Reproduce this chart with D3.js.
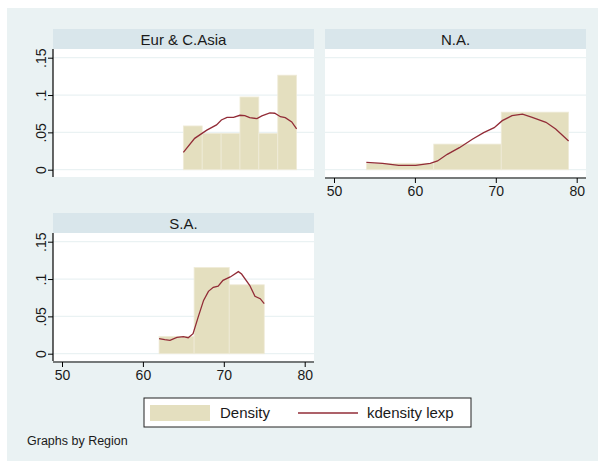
<!DOCTYPE html>
<html>
<head>
<meta charset="utf-8">
<script src="https://cdn.jsdelivr.net/npm/d3@7/dist/d3.min.js"></script>
<style>
  body { margin: 0; background: #fff; }
  text { font-family: "Liberation Sans", Arial, sans-serif; fill: #1a1a1a; }
</style>
</head>
<body>
<div id="chart"></div>
<script>
// ticks
var xTicks = [50, 60, 70, 80];
var yTicks = [0, 0.05, 0.1, 0.15];
var yTickLabels = ['0', '.05', '.1', '.15'];

// regions (panel titles)
var regions = ['Eur & C.Asia', 'N.A.', 'S.A.'];

// histogram bin edges and densities
var eurEdges = [65, 67.33, 69.67, 72, 74.33, 76.67, 79];
var eurDensity = [0.0586, 0.0487, 0.0487, 0.0974, 0.0487, 0.1266];
var naEdges = [54, 62.33, 70.67, 79];
var naDensity = [0.0086, 0.0343, 0.0771];
var saEdges = [62, 66.33, 70.67, 75];
var saDensity = [0.0231, 0.1154, 0.0923];

// kernel density curves
var eurKdX = [65.0, 66.4, 67.9, 69.1, 69.7, 70.4, 71.2, 72.0, 72.6, 73.2, 74.1, 74.7, 75.7, 76.3, 77.0, 77.6, 78.4, 79.0];
var eurKdY = [0.0233, 0.042, 0.053, 0.060, 0.0666, 0.070, 0.070, 0.0729, 0.0724, 0.0697, 0.0684, 0.072, 0.076, 0.0756, 0.071, 0.0697, 0.064, 0.0546];
var naKdX = [54.0, 56.0, 58.0, 60.1, 61.9, 62.8, 64.0, 65.5, 67.1, 68.5, 69.8, 70.8, 72.0, 73.3, 74.5, 76.2, 77.4, 79.0];
var naKdY = [0.0099, 0.0086, 0.0059, 0.0059, 0.0086, 0.0117, 0.0206, 0.0295, 0.0408, 0.0496, 0.0563, 0.0657, 0.0724, 0.0743, 0.0702, 0.0635, 0.0546, 0.0385];
var saKdX = [62.0, 62.7, 63.35, 64.2, 65.0, 65.6, 66.2, 66.85, 67.5, 68.1, 68.7, 69.3, 69.9, 70.8, 71.8, 72.2, 73.2, 73.85, 74.5, 75.0];
var saKdY = [0.0201, 0.0188, 0.0178, 0.0218, 0.0228, 0.0214, 0.0268, 0.0496, 0.0714, 0.0835, 0.0889, 0.0906, 0.0983, 0.1028, 0.1099, 0.1067, 0.0916, 0.0768, 0.0737, 0.067];

var legendLabels = ['Density', 'kdensity lexp'];
var note = 'Graphs by Region';

var W = 599, H = 462;
var panelW = 261, stripH = 20, plotH = 128;
var barColor = '#e4dfbf', lineColor = '#922c37', bgColor = '#eaf2f3', stripColor = '#d9e6eb';

var svg = d3.select('#chart').append('svg')
    .attr('width', W)
    .attr('height', H);

svg.append('rect')
    .attr('x', 7).attr('y', 8)
    .attr('width', 591).attr('height', 453)
    .attr('fill', bgColor);

var xScale = d3.scaleLinear().domain([50, 80]).range([9, 251.7]);
var yScale = d3.scaleLinear().domain([0, 0.15]).range([140.7, 28.7]);

function zip(xs, ys) {
    return xs.map(function (d, i) { return [d, ys[i]]; });
}

var panels = [
    { title: regions[0], x: 53, y: 29, edges: eurEdges, dens: eurDensity, kd: zip(eurKdX, eurKdY), yAxis: true, xAxis: false },
    { title: regions[1], x: 325, y: 29, edges: naEdges, dens: naDensity, kd: zip(naKdX, naKdY), yAxis: false, xAxis: true },
    { title: regions[2], x: 53, y: 213, edges: saEdges, dens: saDensity, kd: zip(saKdX, saKdY), yAxis: true, xAxis: true }
];

var line = d3.line()
    .x(function (d) { return xScale(d[0]); })
    .y(function (d) { return yScale(d[1]); });

panels.forEach(function (p) {
    var g = svg.append('g').attr('transform', 'translate(' + p.x + ',' + p.y + ')');

    // title strip
    g.append('rect')
        .attr('width', panelW).attr('height', stripH)
        .attr('fill', stripColor);
    g.append('text')
        .attr('x', panelW / 2).attr('y', 15.5)
        .attr('text-anchor', 'middle')
        .style('font-size', '15px')
        .text(p.title);

    // plot region
    g.append('rect')
        .attr('y', stripH)
        .attr('width', panelW).attr('height', plotH)
        .attr('fill', '#fff');

    g.selectAll('.grid')
        .data(yTicks)
        .enter().append('line')
        .attr('x1', 0).attr('x2', panelW)
        .attr('y1', function (d) { return yScale(d); })
        .attr('y2', function (d) { return yScale(d); })
        .attr('stroke', bgColor)
        .attr('stroke-width', 1.2);

    // bars
    g.selectAll('.bar')
        .data(p.dens)
        .enter().append('rect')
        .attr('x', function (d, i) { return xScale(p.edges[i]); })
        .attr('y', function (d) { return yScale(d); })
        .attr('width', function (d, i) { return xScale(p.edges[i + 1]) - xScale(p.edges[i]); })
        .attr('height', function (d) { return yScale(0) - yScale(d); })
        .attr('fill', barColor)
        .attr('stroke', '#efebd8')
        .attr('stroke-width', 0.8);

    // density line
    g.append('path')
        .attr('d', line(p.kd))
        .attr('fill', 'none')
        .attr('stroke', lineColor)
        .attr('stroke-width', 1.3);

    if (p.yAxis) {
        var yAx = g.append('g').call(d3.axisLeft(yScale).tickValues(yTicks).tickSize(5)
            .tickFormat(function (d, i) { return yTickLabels[i]; }));
        yAx.select('.domain').remove();
        yAx.selectAll('text')
            .attr('x', 0).attr('dy', 0)
            .attr('text-anchor', 'middle')
            .attr('transform', 'translate(-7.5,0) rotate(-90)')
            .style('font-size', '14px')
            .style('font-family', '"Liberation Sans", Arial, sans-serif')
            .attr('fill', '#1a1a1a');
        g.append('line')
            .attr('x1', 0).attr('x2', 0)
            .attr('y1', stripH).attr('y2', stripH + plotH)
            .attr('stroke', '#000').attr('stroke-width', 1.2);
    }

    if (p.xAxis) {
        var ax = g.append('g')
            .attr('transform', 'translate(0,' + (stripH + plotH + 1) + ')')
            .call(d3.axisBottom(xScale).tickValues(xTicks).tickSize(5).tickPadding(3));
        ax.select('.domain').remove();
        ax.selectAll('text')
            .style('font-size', '14px')
            .style('font-family', '"Liberation Sans", Arial, sans-serif')
            .attr('fill', '#1a1a1a');
        g.append('line')
            .attr('x1', 0).attr('x2', panelW)
            .attr('y1', stripH + plotH + 1).attr('y2', stripH + plotH + 1)
            .attr('stroke', '#000').attr('stroke-width', 1.2);
    }
});

// legend
var lg = svg.append('g').attr('transform', 'translate(144,398)');
lg.append('rect')
    .attr('width', 327).attr('height', 29)
    .attr('fill', '#fff')
    .attr('stroke', '#222').attr('stroke-width', 1);
lg.append('rect')
    .attr('x', 6).attr('y', 7)
    .attr('width', 60).attr('height', 16)
    .attr('fill', barColor);
lg.append('text')
    .attr('x', 76).attr('y', 20)
    .style('font-size', '15px')
    .text(legendLabels[0]);
lg.append('line')
    .attr('x1', 154).attr('x2', 214)
    .attr('y1', 15).attr('y2', 15)
    .attr('stroke', lineColor).attr('stroke-width', 1.3);
lg.append('text')
    .attr('x', 223).attr('y', 20)
    .style('font-size', '15px')
    .text(legendLabels[1]);

svg.append('text')
    .attr('x', 27).attr('y', 445)
    .style('font-size', '12.5px')
    .text(note);
</script>
</body>
</html>
